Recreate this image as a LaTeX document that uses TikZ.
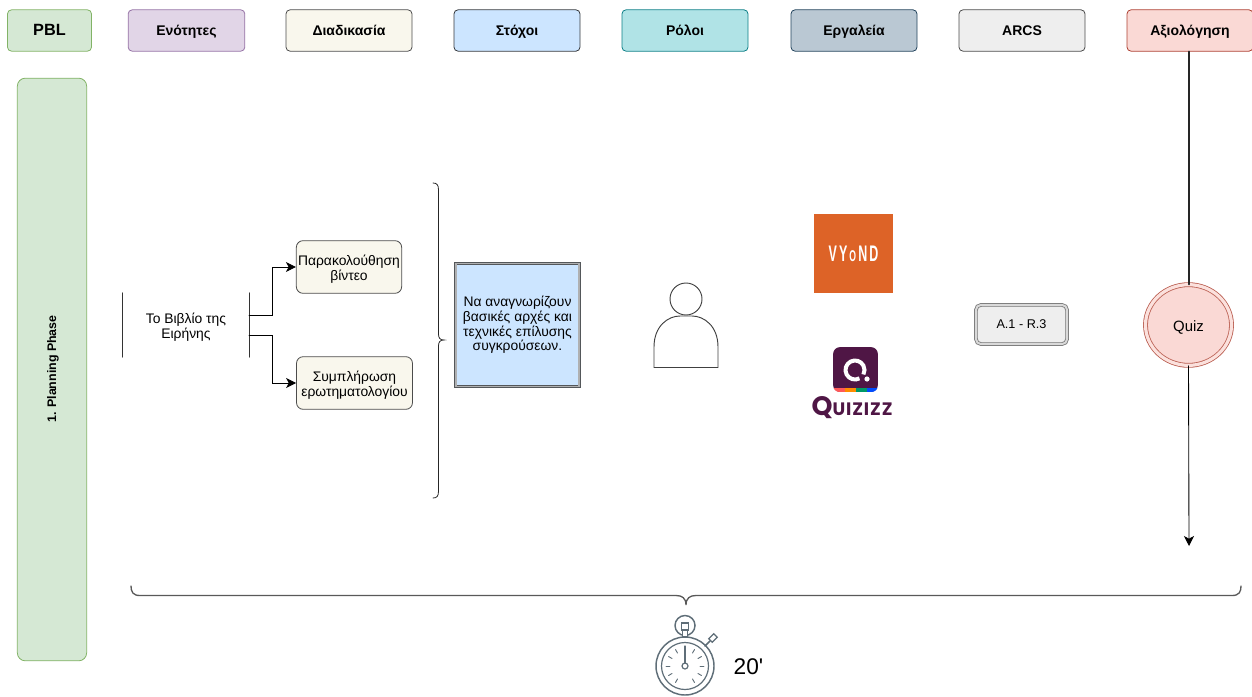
\documentclass[tikz,border=0pt]{standalone}
\usepackage{fontspec}
\setmainfont{Liberation Sans}
\newfontfamily\logofont[LetterSpace=5]{Poppins}
\usetikzlibrary{arrows.meta,shapes.geometric}
\usepackage{xcolor}
\definecolor{pblgreen}{HTML}{D5E8D4}
\definecolor{pblline}{HTML}{82B366}
\definecolor{unitfill}{HTML}{E1D5E7}
\definecolor{unitline}{HTML}{9673A6}
\definecolor{procfill}{HTML}{F9F7ED}
\definecolor{goalfill}{HTML}{CCE5FF}
\definecolor{goalline}{HTML}{36393D}
\definecolor{rolefill}{HTML}{B0E3E6}
\definecolor{roleline}{HTML}{0E8088}
\definecolor{toolfill}{HTML}{BAC8D3}
\definecolor{toolline}{HTML}{23445D}
\definecolor{arcsfill}{HTML}{EEEEEE}
\definecolor{evalfill}{HTML}{FAD9D5}
\definecolor{evalline}{HTML}{AE4132}
\definecolor{vyondorange}{HTML}{DD6327}
\definecolor{quizpurple}{HTML}{4F1645}
\definecolor{watchgrey}{HTML}{5F6E78}
\newcommand{\topgap}{\rule{0pt}{11.5pt}}

\begin{document}
\begin{tikzpicture}[x=0.75pt,y=-0.75pt,cap=round,>={Stealth[length=7.5pt,width=7.5pt,inset=2pt]},
        headbox/.style={draw,line width=0.6pt,rounded corners=3pt,minimum width=94.5pt,minimum height=31pt,inner sep=0pt,text height=9pt,text depth=2pt,font=\fontsize{10.5}{11}\selectfont\bfseries},
        stepbox/.style={draw=black!70,line width=0.6pt,fill=procfill,rounded corners=5pt,align=center,inner sep=0pt,font=\fontsize{10.4}{11}\selectfont},
        plain/.style={align=center,inner sep=0pt,font=\fontsize{10.4}{11}\selectfont},
        link/.style={line width=0.65pt}]
    \useasboundingbox (0,0) rectangle (1252,696);

    % draw the header row
    \node[headbox,draw=pblline,fill=pblgreen,minimum width=63pt,font=\fontsize{12.2}{12}\selectfont\bfseries] (pbl) at (49.5,30.5) {PBL};
    \node[headbox,draw=unitline,fill=unitfill,minimum width=87.5pt] (units) at (186.5,30.5) {Ενότητες};
    \node[headbox,draw=black!70,fill=procfill] (process) at (349,30.5) {Διαδικασία};
    \node[headbox,draw=goalline,fill=goalfill] (goals) at (517,30.5) {Στόχοι};
    \node[headbox,draw=roleline,fill=rolefill] (roles) at (685,30.5) {Ρόλοι};
    \node[headbox,draw=toolline,fill=toolfill] (tools) at (854,30.5) {Εργαλεία};
    \node[headbox,draw=black!70,fill=arcsfill] (arcs) at (1022,30.5) {ARCS};
    \node[headbox,draw=evalline,fill=evalfill] (eval) at (1190,30.5) {Αξιολόγηση};

    % draw the phase panel
    \node[draw=pblline,line width=0.6pt,fill=pblgreen,rounded corners=6pt,minimum width=52pt,minimum height=437pt,inner sep=0pt] (phase) at (52,369.5) {};
    \node[rotate=90,font=\fontsize{9.3}{10}\selectfont\bfseries] (phasetext) at (53,369) {1. Planning Phase};

    % unit with its two side lines
    \node[plain,minimum width=94.5pt,minimum height=48pt] (book) at (186,325) {\topgap Το Βιβλίο της\\Ειρήνης};
    \draw[black!80] (book.north west) -- (book.south west);
    \draw[black!80] (book.north east) -- (book.south east);

    % process steps
    \node[stepbox,minimum width=79pt,minimum height=39.5pt] (video) at (349,267) {\topgap Παρακολούθηση\\βίντεο};
    \node[stepbox,minimum width=87pt,minimum height=39.5pt] (form) at (354.5,383) {\topgap Συμπλήρωση\\ερωτηματολογίου};
    \coordinate (bookup) at (249,315);
    \coordinate (bookdown) at (249,335);
    \draw[link,->] (bookup) -- (272,315) |- (video.west);
    \draw[link,->] (bookdown) -- (272,335) |- (form.west);

    % curly bracket and goal
    \draw[black!85,line width=0.6pt] (433,183) .. controls (437,183) and (438.5,185) .. (438.5,190) -- (438.5,334)
        .. controls (438.5,338) and (440,340) .. (444,340) .. controls (440,340) and (438.5,342) .. (438.5,346)
        -- (438.5,491) .. controls (438.5,496) and (437,498) .. (433,498);
    \node[plain,draw=goalline!85,line width=0.6pt,double=goalline!40,double distance=1.2pt,fill=goalfill,minimum width=92.5pt,minimum height=92.5pt] (goal) at (517.5,325) {Να αναγνωρίζουν\\βασικές αρχές και\\τεχνικές επίλυσης\\συγκρούσεων.};

    % role
    \node[draw=black!75,line width=0.7pt,circle,minimum size=24pt,inner sep=0pt] (head) at (686,299) {};
    \draw[black!75,line width=0.7pt] (654,367.5) -- (654,347) .. controls (654,326) and (668,316) .. (680,316) -- (692,316) .. controls (704,316) and (718,326) .. (718,347) -- (718,367.5) -- cycle;

    % vyond logo
    \node[fill=vyondorange,text=white,minimum size=59.5pt,inner sep=0pt] (vyond) at (853.5,253.5) {\raisebox{-1.2pt}{\scalebox{0.72}[1.3]{\fontsize{13}{13}\selectfont\bfseries V\,Y\,{\small O}\,N\,D}}};

    % quizizz logo
    \node[fill=quizpurple,rounded corners=5pt,minimum size=33.5pt,inner sep=0pt] (quizicon) at (855.5,369.5) {};
    \begin{scope}
        \clip[rounded corners=5pt] (833,347) rectangle (878,392);
        \fill[red!65!white] (833,388) rectangle (845,392);
        \fill[orange!90!yellow] (845,388) rectangle (856,392);
        \fill[teal!80!green] (856,388) rectangle (867,392);
        \fill[blue!70!cyan] (867,388) rectangle (878,392);
    \end{scope}
    \draw[white,line width=3pt,line cap=butt] (855,370) ++(62:9.5) arc (62:388:9.5);
    \fill[white] (867,379) circle (2.6);
    \node[text=quizpurple,inner sep=0pt,font=\logofont\bfseries\fontsize{13.5}{13}\selectfont] (quiztext) at (852,408) {{\fontsize{20}{13}\selectfont Q}UIZIZZ};

    % arcs
    \node[plain,draw=black!55,line width=0.6pt,double=black!15,double distance=1.5pt,fill=arcsfill,rounded corners=4pt,minimum width=68.5pt,minimum height=29.5pt,font=\fontsize{9.5}{11}\selectfont] (level) at (1021.5,324.5) {A.1 - R.3};

    % evaluation line
    \node[plain,ellipse,draw=evalline!85,line width=0.6pt,double=evalfill!80!white,double distance=2.4pt,fill=evalfill,minimum width=64.5pt,minimum height=60.5pt,font=\fontsize{11.2}{12}\selectfont] (quiz) at (1188.5,325) {\topgap Quiz};
    \coordinate (evalend) at (1189,546);
    \draw[line width=1.5pt,black!85] (eval.south -| quiz.north) -- (quiz.north);
    \draw[link,->] (quiz.south) -- (evalend);

    % bottom bracket
    \draw[black!65,line width=1pt] (131,586) .. controls (131,592) and (133,595.5) .. (140,595.5) -- (676,595.5)
        .. controls (682,595.5) and (686,598) .. (686,605) .. controls (686,598) and (690,595.5) .. (696,595.5)
        -- (1232,595.5) .. controls (1239,595.5) and (1241,592) .. (1241,586);

    % stopwatch
    \coordinate (watch) at (685,666);
    \draw[watchgrey,line width=1.1pt] (watch) circle (29);
    \draw[watchgrey,line width=0.9pt] (watch) circle (23.5);
    \draw[watchgrey,line width=1.1pt] (685,625.5) circle (10);
    \draw[watchgrey,line width=0.9pt,fill=white] (681.5,623) rectangle (688.5,630);
    \draw[watchgrey,line width=0.9pt,fill=white] (682.5,630) rectangle (687.5,637);
    \draw[watchgrey,line width=1.1pt] (705,646) -- (710,641);
    \draw[watchgrey,line width=0.9pt,fill=white,rotate around={45:(713,638)}] (709.5,635.5) rectangle (716.5,640.5);
    \foreach \a in {30,60,...,330}
        \draw[watchgrey,line width=0.7pt] (watch) ++(90+\a:15) -- ++(90+\a:4);
    \draw[watchgrey,line width=1pt] (685,646) -- (685,663);
    \draw[watchgrey,line width=0.9pt,fill=white] (685,666) circle (3);
    \node[inner sep=0pt,font=\fontsize{17}{20}\selectfont] (time) at (748.5,667) {20\textquotesingle};
\end{tikzpicture}
\end{document}
